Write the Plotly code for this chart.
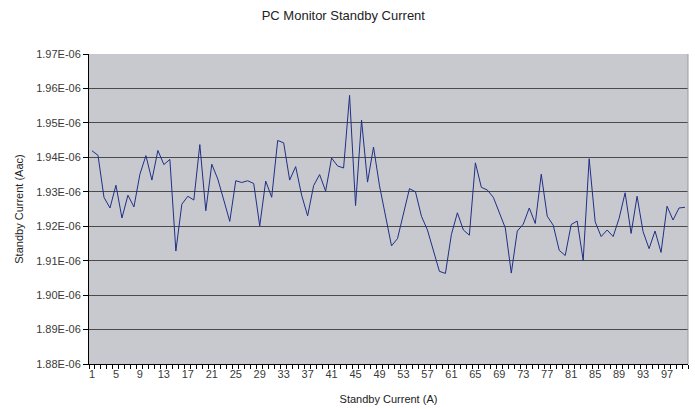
import numpy as np
import plotly.graph_objects as go

# Sample index (1..100)
samples = list(range(1, 101))

# Standby current in units of 1E-06 A
current_e6 = [
    1.9419, 1.9406, 1.9284, 1.9253, 1.9319, 1.9224, 1.9290, 1.9256, 1.9351, 1.9405,
    1.9334, 1.9420, 1.9379, 1.9394, 1.9128, 1.9264, 1.9287, 1.9276, 1.9437, 1.9245,
    1.9380, 1.9337, 1.9276, 1.9214, 1.9332, 1.9327, 1.9332, 1.9324, 1.9201, 1.9331,
    1.9284, 1.9449, 1.9442, 1.9334, 1.9373, 1.9290, 1.9230, 1.9318, 1.9350, 1.9302,
    1.9398, 1.9375, 1.9369, 1.9580, 1.9260, 1.9508, 1.9328, 1.9430, 1.9317, 1.9235,
    1.9143, 1.9164, 1.9237, 1.9309, 1.9300, 1.9229, 1.9189, 1.9130, 1.9069, 1.9063,
    1.9176, 1.9239, 1.9189, 1.9174, 1.9384, 1.9313, 1.9305, 1.9284, 1.9237, 1.9195,
    1.9064, 1.9186, 1.9206, 1.9253, 1.9208, 1.9351, 1.9229, 1.9203, 1.9130, 1.9115,
    1.9205, 1.9215, 1.9101, 1.9396, 1.9213, 1.9170, 1.9189, 1.9170, 1.9223, 1.9297,
    1.9179, 1.9287, 1.9184, 1.9135, 1.9186, 1.9124, 1.9258, 1.9218, 1.9253, 1.9255,
]

x_tick_labels = [str(v) for v in range(1, 100, 4)]
y_tick_values_e6 = [1.88, 1.89, 1.90, 1.91, 1.92, 1.93, 1.94, 1.95, 1.96, 1.97]
y_tick_labels = ["1.88E-06", "1.89E-06", "1.90E-06", "1.91E-06", "1.92E-06",
                 "1.93E-06", "1.94E-06", "1.95E-06", "1.96E-06", "1.97E-06"]

y = np.array(current_e6) * 1e-6
yt = np.array(y_tick_values_e6) * 1e-6

fig = go.Figure()
fig.add_trace(go.Scatter(
    x=samples, y=y, mode="lines",
    line=dict(color="#1f2f86", width=1),
    showlegend=False,
))

font = "Liberation Sans, Arial, Helvetica, sans-serif"

fig.update_layout(
    width=695, height=409,
    margin=dict(l=89, r=7, t=54, b=45),
    paper_bgcolor="white",
    plot_bgcolor="#c8c9ce",
    font=dict(family=font, size=11, color="#3a3a3a"),
    title=dict(text="PC Monitor Standby Current", x=0.494, xanchor="center",
               y=1 - 15 / 409, yanchor="middle",
               font=dict(family=font, size=13, color="#222222")),
    xaxis=dict(
        range=[0.5, 100.5],
        tickmode="array",
        tickvals=[int(v) for v in x_tick_labels],
        ticktext=x_tick_labels,
        ticks="",
        showgrid=False,
        zeroline=False,
        showline=True, linecolor="#000000", linewidth=1,
        minor=dict(tick0=0.5, dtick=1, ticks="outside", ticklen=4,
                   tickcolor="#000000", tickwidth=1, showgrid=False),
        tickfont=dict(size=11, color="#3a3a3a"),
        title=dict(text="Standby Current (A)", standoff=16,
                   font=dict(size=11, color="#222222")),
        automargin=False,
    ),
    yaxis=dict(
        range=[yt[0], yt[-1]],
        tickmode="array",
        tickvals=list(yt),
        ticktext=y_tick_labels,
        ticks="outside", ticklen=5, tickcolor="#000000",
        showgrid=True, gridcolor="#4a4a4a", gridwidth=1,
        zeroline=False,
        showline=True, linecolor="#000000", linewidth=1,
        tickfont=dict(size=11, color="#3a3a3a"),
        title=dict(text="Standby Current (Aac)", standoff=10,
                   font=dict(size=11, color="#222222")),
        automargin=False,
    ),
)

# right border of the plot area
fig.add_shape(type="line", xref="paper", yref="paper", x0=1, x1=1, y0=0, y1=1,
              line=dict(color="#9a9a9a", width=1))

fig.write_html("out.html",
               config={"displayModeBar": False},
               post_script="document.body.style.margin='0';document.body.style.overflow='hidden';")
